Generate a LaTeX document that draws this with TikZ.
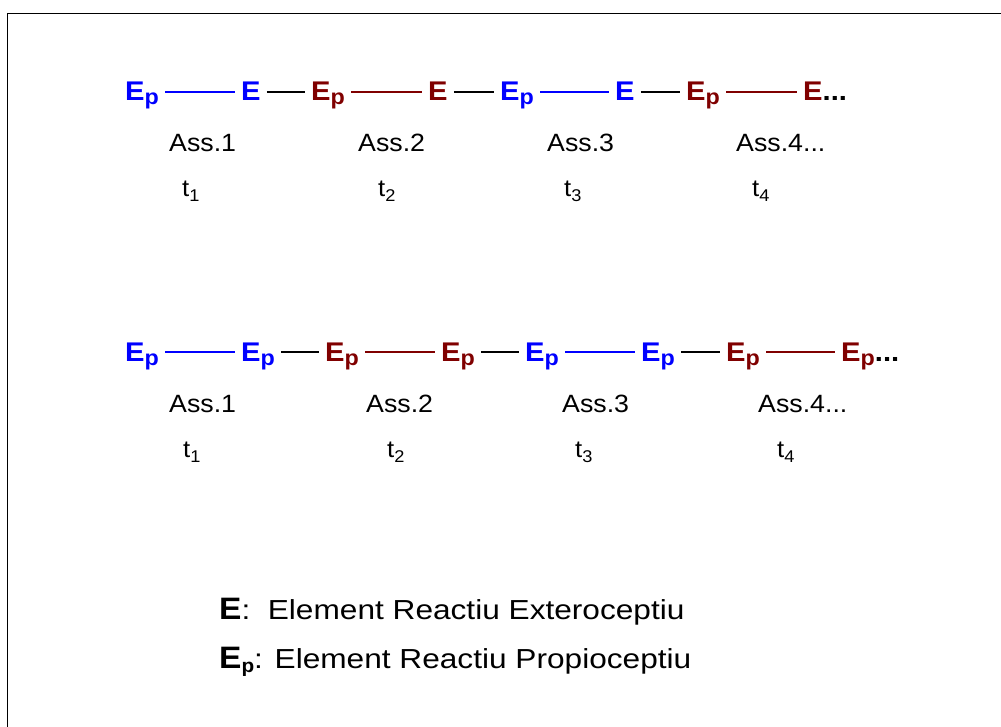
\documentclass[tikz,border=0pt]{standalone}
\usepackage{fontspec}
\setmainfont{Liberation Sans}[FakeStretch=1.07]
\newfontfamily\elemfont{Liberation Sans}[FakeStretch=1.08]
\newfontfamily\legendfont{Liberation Sans}[FakeStretch=1.15]
\usepackage{graphicx}
\usepackage{xcolor}
\definecolor{exblue}{RGB}{0,0,255}
\definecolor{propred}{RGB}{128,0,0}
\newcommand{\Elp}[1][0.8]{E\raisebox{-0.15em}{\scalebox{#1}{p}}}
\newcommand{\tind}[1]{t\raisebox{-5pt}{\fontsize{17}{17}\selectfont #1}}

\begin{document}
\begin{tikzpicture}[x=1pt, y=-1pt,
  elem/.style={anchor=base west, inner xsep=6pt, inner ysep=0pt,
    font=\elemfont\bfseries\fontsize{27}{27}\selectfont},
  asslabel/.style={anchor=base west, inner sep=0pt, font=\fontsize{25}{25}\selectfont},
  tlabel/.style={anchor=base west, inner sep=0pt, font=\fontsize{24}{24}\selectfont},
  legend/.style={anchor=base west, inner sep=0pt, font=\legendfont\fontsize{27.5}{27.5}\selectfont},
  link/.style={line width=1.8pt, transform canvas={yshift=6pt}},
  bluelink/.style={link, exblue},
  redlink/.style={link, propred},
  blacklink/.style={link, black}]

\useasboundingbox (0,0) rectangle (1001,727);

% Frame (only top and left edges fall inside the picture)
\draw[line width=1.5pt] (1001,13.5) -- (7.5,13.5) -- (7.5,727);

% Top row: Ep -- E associations
\node[elem, exblue]  (a1) at (119,100.5) {\Elp};
\node[elem, exblue]  (a2) at (235,100.5) {E};
\node[elem, propred] (a3) at (305,100.5) {\Elp};
\node[elem, propred] (a4) at (422,100.5) {E};
\node[elem, exblue]  (a5) at (494,100.5) {\Elp};
\node[elem, exblue]  (a6) at (609,100.5) {E};
\node[elem, propred] (a7) at (680,100.5) {\Elp};
\node[elem, propred] (a8) at (797,100.5) {E\textcolor{black}{...}};
% Links
\draw[bluelink]  (a1.mid east) -- (a2.mid west);
\draw[blacklink] (a2.mid east) -- (a3.mid west);
\draw[redlink]   (a3.mid east) -- (a4.mid west);
\draw[blacklink] (a4.mid east) -- (a5.mid west);
\draw[bluelink]  (a5.mid east) -- (a6.mid west);
\draw[blacklink] (a6.mid east) -- (a7.mid west);
\draw[redlink]   (a7.mid east) -- (a8.mid west);
% Labels
\node[asslabel] (ass1) at (169,152) {Ass.1};
\node[asslabel] (ass2) at (358,152) {Ass.2};
\node[asslabel] (ass3) at (547,152) {Ass.3};
\node[asslabel] (ass4) at (736,152) {Ass.4...};
\node[tlabel] (ta1) at (182,197) {\tind{1}};
\node[tlabel] (ta2) at (378,197) {\tind{2}};
\node[tlabel] (ta3) at (564,197) {\tind{3}};
\node[tlabel] (ta4) at (752,197) {\tind{4}};

% Bottom row: Ep -- Ep associations
\node[elem, exblue]  (b1) at (119,361) {\Elp};
\node[elem, exblue]  (b2) at (235,361) {\Elp};
\node[elem, propred] (b3) at (319,361) {\Elp};
\node[elem, propred] (b4) at (435,361) {\Elp};
\node[elem, exblue]  (b5) at (519,361) {\Elp};
\node[elem, exblue]  (b6) at (635,361) {\Elp};
\node[elem, propred] (b7) at (720,361) {\Elp};
\node[elem, propred] (b8) at (835,361) {\Elp\textcolor{black}{...}};
% Links
\draw[bluelink]  (b1.mid east) -- (b2.mid west);
\draw[blacklink] (b2.mid east) -- (b3.mid west);
\draw[redlink]   (b3.mid east) -- (b4.mid west);
\draw[blacklink] (b4.mid east) -- (b5.mid west);
\draw[bluelink]  (b5.mid east) -- (b6.mid west);
\draw[blacklink] (b6.mid east) -- (b7.mid west);
\draw[redlink]   (b7.mid east) -- (b8.mid west);
% Labels
\node[asslabel] (bss1) at (169,412) {Ass.1};
\node[asslabel] (bss2) at (366,412) {Ass.2};
\node[asslabel] (bss3) at (562,412) {Ass.3};
\node[asslabel] (bss4) at (758,412) {Ass.4...};
\node[tlabel] (tb1) at (183,457) {\tind{1}};
\node[tlabel] (tb2) at (387,457) {\tind{2}};
\node[tlabel] (tb3) at (575,457) {\tind{3}};
\node[tlabel] (tb4) at (777,457) {\tind{4}};

% Legend
\node[legend] (leg1) at (219,619) {{\elemfont\bfseries\fontsize{31}{31}\selectfont E}:\ \ Element Reactiu Exteroceptiu};
\node[legend] (leg2) at (219,668) {{\elemfont\bfseries\fontsize{31}{31}\selectfont\Elp[0.62]}: Element Reactiu Propioceptiu};

\end{tikzpicture}
\end{document}
